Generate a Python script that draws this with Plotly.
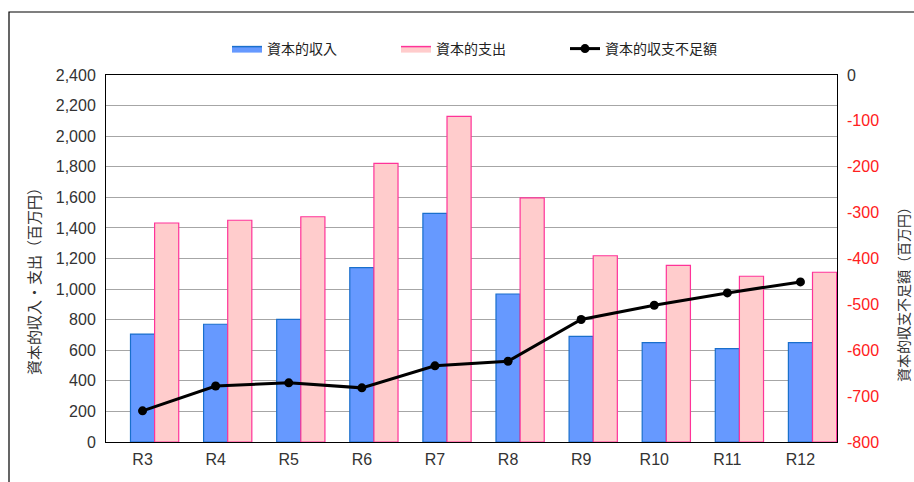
import plotly.graph_objects as go

categories = ["R3", "R4", "R5", "R6", "R7", "R8", "R9", "R10", "R11", "R12"]
income = [706, 770, 802, 1140, 1495, 968, 691, 650, 610, 650]
expense = [1432, 1450, 1473, 1822, 2130, 1596, 1218, 1155, 1084, 1110]
shortfall = [-732, -678, -671, -682, -634, -624, -533, -502, -475, -451]

right_ticks = [0, -100, -200, -300, -400, -500, -600, -700, -800]
left_ticks = list(range(0, 2401, 200))

xs = list(range(len(categories)))
W = 0.33
FONT = "Liberation Sans, Arial, sans-serif"
JFONT = "Noto Sans CJK JP, sans-serif"
BLUE, BLUE_LINE = "#6699FF", "#1A6FCC"
PINK, PINK_LINE = "#FFCCCC", "#FF3399"

fig = go.Figure()
fig.add_trace(go.Bar(
    x=xs, y=income, name="資本的収入", width=W, offset=-W / 2, showlegend=False,
    marker=dict(color=BLUE, line=dict(color=BLUE_LINE, width=1.2)),
))
fig.add_trace(go.Bar(
    x=xs, y=expense, name="資本的支出", width=W, offset=W / 2, showlegend=False,
    marker=dict(color=PINK, line=dict(color=PINK_LINE, width=1.2)),
))
fig.add_trace(go.Scatter(
    x=xs, y=shortfall, name="資本的収支不足額", yaxis="y2", mode="lines+markers",
    line=dict(color="black", width=3), marker=dict(color="black", size=9), legendrank=3,
))
# legend-only entries for the bar series (rectangular swatches)
fig.add_trace(go.Scatter(x=[None], y=[None], name="資本的収入", mode="lines", fill="toself",
                         fillcolor=BLUE, line=dict(color=BLUE_LINE, width=1.5), legendrank=1))
fig.add_trace(go.Scatter(x=[None], y=[None], name="資本的支出", mode="lines", fill="toself",
                         fillcolor=PINK, line=dict(color=PINK_LINE, width=1.5), legendrank=2))

right_text = ["0"] + [f"<span style='color:#FF2020'>{v}</span>" for v in right_ticks[1:]]

L, R, T, B = 106, 77, 75, 40
pw, ph = 914 - L - R, 482 - T - B

def px_x(x):
    return (x - L) / pw

def px_y(y):
    return (482 - B - y) / ph

fig.update_layout(
    width=914, height=482,
    margin=dict(l=L, r=R, t=T, b=B, autoexpand=False),
    plot_bgcolor="white", paper_bgcolor="white",
    barmode="overlay",
    font=dict(family=FONT, size=16, color="#333333"),
    showlegend=True,
    legend=dict(orientation="h", x=px_x(227), xanchor="left", y=px_y(49), yanchor="middle",
                font=dict(family=JFONT, size=14, color="#222222"),
                entrywidth=124, entrywidthmode="pixels",
                traceorder="normal", tracegroupgap=0),
    xaxis=dict(range=[-0.5, 9.5], tickmode="array", tickvals=xs, ticktext=categories,
               showgrid=False, showline=True, linecolor="black", linewidth=1, mirror=True,
               ticks="", ticklabelstandoff=3,
               tickfont=dict(family=FONT, size=16, color="#333333"), zeroline=False,
               automargin=False),
    yaxis=dict(range=[0, 2400], tickmode="array", tickvals=left_ticks,
               ticktext=[f"{v:,}" for v in left_ticks],
               showgrid=True, gridcolor="#A6A6A6", gridwidth=1,
               showline=True, linecolor="black", linewidth=1, mirror=True, zeroline=False,
               ticks="", ticklen=0, ticklabelstandoff=6,
               tickfont=dict(family=FONT, size=16, color="#333333"),
               automargin=False),
    yaxis2=dict(range=[-800, 0], overlaying="y", side="right", tickmode="array",
                tickvals=right_ticks, ticktext=right_text, showgrid=False, zeroline=False,
                showline=False, ticks="", ticklabelstandoff=9,
                tickfont=dict(family=FONT, size=16, color="#333333"),
                automargin=False),
    annotations=[
        dict(text="資本的収入・支出（百万円）", xref="paper", yref="paper", x=px_x(33), y=px_y(278),
             textangle=-90, showarrow=False, xanchor="center", yanchor="middle",
             font=dict(family=JFONT, size=15, color="#333333")),
        dict(text="資本的収支不足額（百万円）", xref="paper", yref="paper", x=px_x(903), y=px_y(291),
             textangle=-90, showarrow=False, xanchor="center", yanchor="middle",
             font=dict(family=JFONT, size=14, color="#333333")),
    ],
    shapes=[dict(type="rect", xref="paper", yref="paper",
                 x0=px_x(9), x1=2.0, y0=-1.0, y1=px_y(12),
                 line=dict(color="black", width=1.2), fillcolor="rgba(0,0,0,0)", layer="below")],
)

fig.write_html("out.html", config={"displayModeBar": False},
               post_script="document.body.style.margin='0';")
